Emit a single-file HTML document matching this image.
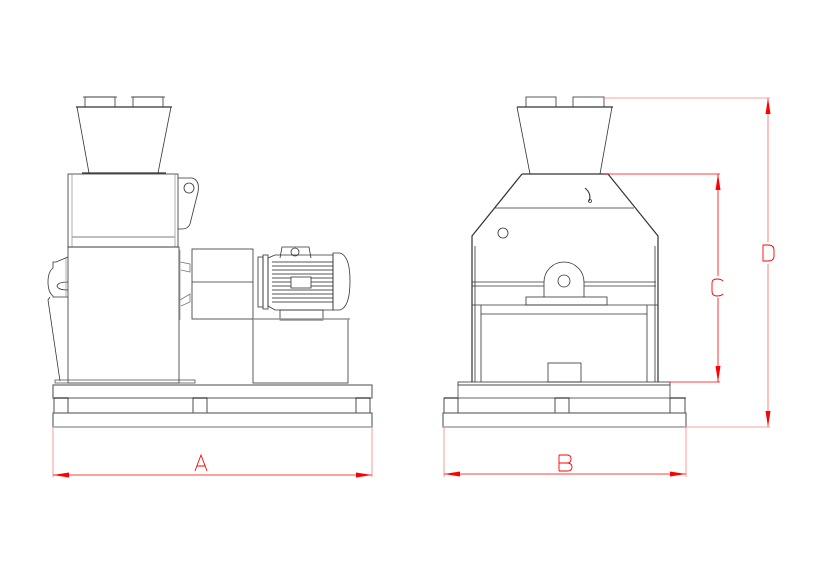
<!DOCTYPE html>
<html><head><meta charset="utf-8"><style>
html,body{margin:0;padding:0;background:#fff;}
svg{display:block}
text{font-family:"Liberation Sans",sans-serif;}
</style></head><body>
<svg width="830" height="583" viewBox="0 0 830 583" xmlns="http://www.w3.org/2000/svg">
<rect width="830" height="583" fill="#fff"/>
<g fill="none" stroke="#333" stroke-width="0.8">
<!-- LEFT MACHINE -->
<!-- inlet tubes -->
<rect x="85" y="97" width="30" height="10"/>
<rect x="133" y="97" width="30" height="10"/>
<line x1="83" y1="97" x2="117" y2="97"/><line x1="131" y1="97" x2="165" y2="97"/>
<line x1="76" y1="107" x2="172" y2="107" stroke-width="1.2"/>
<!-- hopper -->
<line x1="77" y1="107" x2="89" y2="173"/>
<line x1="171" y1="107" x2="158" y2="173"/>
<line x1="82" y1="173" x2="166" y2="173" stroke-width="1.2"/>
<!-- upper housing -->
<rect x="68" y="174" width="110" height="73"/>
<line x1="72" y1="174" x2="72" y2="247" stroke="#999"/>
<line x1="175" y1="174" x2="175" y2="247" stroke="#999"/>
<line x1="72" y1="237" x2="175" y2="237" stroke="#999" stroke-width="1.2"/>
<!-- bracket -->
<path d="M178 178 L192 178 Q200 180 198 192 L190 224 Q188 229 182 229 L178 229"/>
<circle cx="189" cy="188" r="5"/>
<!-- lower body -->
<rect x="68" y="247" width="111" height="136"/>
<!-- left bearing -->
<path d="M68 257 L56 262 L53 262 L53 268 Q48 272 48 282 Q48 292 53 296 L53 297 L68 297"/>
<path d="M68 282 Q58 282 57 286 Q58 290 68 290" />
<line x1="66" y1="257" x2="66" y2="297" stroke="#999"/>
<path d="M50 297 L48 300 L60 381" />
<!-- right side ribs -->
<path d="M180 262 L190 264 L190 272 L181 270" stroke="#777"/>
<path d="M180 300 L190 294 L190 302 L181 306" stroke="#777"/>
<line x1="180" y1="250" x2="180" y2="320" stroke="#999"/>
<!-- coupling guard -->
<rect x="192" y="249" width="61" height="70"/>
<line x1="192" y1="282" x2="253" y2="282"/>
<!-- motor -->
<rect x="258" y="257" width="5" height="50"/>
<rect x="263" y="255" width="5" height="54"/>
<path d="M268 258 L275 255 L333 255 L333 310 L275 310 L268 306 Z"/>
<g stroke="#555" stroke-width="0.9">
<line x1="272" y1="262" x2="333" y2="262"/>
<line x1="272" y1="266" x2="333" y2="266"/>
<line x1="272" y1="270" x2="333" y2="270"/>
<line x1="272" y1="274" x2="333" y2="274"/>
<line x1="272" y1="278" x2="333" y2="278"/>
<line x1="272" y1="282" x2="333" y2="282"/>
<line x1="272" y1="286" x2="333" y2="286"/>
<line x1="272" y1="290" x2="333" y2="290"/>
<line x1="272" y1="294" x2="333" y2="294"/>
<line x1="272" y1="298" x2="333" y2="298"/>
<line x1="272" y1="302" x2="333" y2="302"/>
</g>
<rect x="291" y="277" width="20" height="11" fill="#fff"/>
<path d="M280 258 L282 247 L309 247 L311 258"/>
<circle cx="295" cy="252" r="4"/>
<path d="M333 253 L340 253 Q350 256 350 281 Q350 307 340 310 L333 310 Z"/>
<rect x="280" y="310" width="43" height="10"/>
<!-- motor stand -->
<rect x="253" y="319" width="95" height="64"/>
<line x1="253" y1="319" x2="350" y2="319" stroke="#999" stroke-width="1.4"/>
<!-- base -->
<rect x="55" y="380" width="140" height="3" stroke="#555"/>
<rect x="53" y="385" width="319" height="13" stroke="#666" stroke-width="1.2"/>
<line x1="53" y1="398" x2="372" y2="398" stroke="#999" stroke-width="1.6"/>
<rect x="54" y="398" width="14" height="15" stroke="#222"/>
<rect x="193" y="398" width="14" height="15" stroke="#222"/>
<rect x="356" y="398" width="14" height="15" stroke="#222"/>
<rect x="53" y="413" width="319" height="14" stroke="#666" stroke-width="1.2"/>
<line x1="53" y1="427" x2="372" y2="427" stroke="#aaa" stroke-width="1.6"/>

<!-- RIGHT MACHINE -->
<rect x="526" y="97" width="30" height="10"/>
<rect x="573" y="97" width="31" height="10"/>
<line x1="517" y1="107" x2="613" y2="107" stroke-width="1.2"/>
<line x1="517" y1="107" x2="530" y2="174"/>
<line x1="612" y1="107" x2="600" y2="174"/>
<path d="M522 174 L608 174 L658 236 L658 382 M522 174 L472 236 L472 382" stroke-width="1.2"/>
<line x1="475" y1="246" x2="475" y2="382"/>
<line x1="655" y1="246" x2="655" y2="382"/>
<line x1="495" y1="208" x2="634" y2="208"/>
<circle cx="503" cy="233" r="5"/>
<path d="M585 188 Q592 194 589 201" stroke-width="1.1"/>
<circle cx="590" cy="201" r="1.5"/>
<line x1="472" y1="282" x2="544" y2="282"/><line x1="584" y1="282" x2="656" y2="282"/>
<line x1="472" y1="286" x2="544" y2="286"/><line x1="584" y1="286" x2="656" y2="286"/>
<path d="M544 297 L544 282 A20 20 0 0 1 584 282 L584 297"/>
<circle cx="564" cy="281" r="6"/>
<rect x="526" y="297" width="81" height="8"/>
<line x1="472" y1="305" x2="658" y2="305"/>
<line x1="481" y1="314" x2="647" y2="314"/>
<line x1="481" y1="305" x2="481" y2="382"/>
<line x1="647" y1="305" x2="647" y2="382"/>
<rect x="548" y="363" width="33" height="19"/>
<!-- base -->
<rect x="458" y="382" width="212" height="3"/>
<rect x="458" y="385" width="212" height="13" stroke="#444"/>
<line x1="444" y1="398" x2="686" y2="398" stroke="#999" stroke-width="1.4"/>
<rect x="444" y="398" width="14" height="15" stroke="#222"/>
<rect x="555" y="398" width="14" height="15" stroke="#222"/>
<rect x="670" y="398" width="15" height="15" stroke="#222"/>
<rect x="443" y="413" width="243" height="14" stroke="#666" stroke-width="1.2"/>
<line x1="443" y1="427" x2="686" y2="427" stroke="#aaa" stroke-width="1.6"/>
</g>

<!-- DIMENSIONS -->
<g stroke="#ff4040" stroke-width="0.8" fill="none">
<line x1="53" y1="427" x2="53" y2="477" stroke="#ff8080"/>
<line x1="372" y1="427" x2="372" y2="477" stroke="#ff8080"/>
<line x1="53" y1="475" x2="372" y2="475" stroke="#f00"/>
<line x1="444" y1="427" x2="444" y2="477" stroke="#ff8080"/>
<line x1="686" y1="427" x2="686" y2="477" stroke="#ff8080"/>
<line x1="444" y1="474" x2="686" y2="474" stroke="#f00"/>
<line x1="604" y1="98" x2="770" y2="98" stroke="#ff8080"/>
<line x1="686" y1="427" x2="770" y2="427" stroke="#ff8080"/>
<line x1="768" y1="98" x2="768" y2="242" stroke="#ff6060"/>
<line x1="768" y1="264" x2="768" y2="427" stroke="#ff6060"/>
<line x1="604" y1="174" x2="720" y2="174" stroke="#f00"/>
<line x1="670" y1="382" x2="720" y2="382" stroke="#f00"/>
<line x1="718" y1="174" x2="718" y2="276" stroke="#f00"/>
<line x1="718" y1="298" x2="718" y2="382" stroke="#f00"/>
</g>
<g fill="#f00">
<polygon points="53,475 69,472.5 69,477.5"/>
<polygon points="372,475 356,472.5 356,477.5"/>
<polygon points="444,474 460,471.5 460,476.5"/>
<polygon points="686,474 670,471.5 670,476.5"/>
<polygon points="718,174 715.5,190 720.5,190"/>
<polygon points="718,382 715.5,366 720.5,366"/>
<polygon points="768,98 765.5,114 770.5,114"/>
<polygon points="768,427 765.5,411 770.5,411"/>
</g>
<g fill="none" stroke="#f00" stroke-width="0.9">
<!-- A -->
<path d="M195 471 L201 455 L207 471 M197 466 L205 466"/>
<!-- B -->
<path d="M559 455 L559 471 M559 455 L567 455 Q571 455 571 459 Q571 463 567 463 L559 463 M567 463 Q572 463 572 467 Q572 471 567 471 L559 471"/>
<!-- C -->
<path d="M723 281 Q721 279 717 279 Q712 279 712 283 L712 291 Q712 296 717 296 Q721 296 723 294"/>
<!-- D -->
<path d="M763 245 L763 261 L768 261 Q774 261 774 256 L774 250 Q774 245 768 245 Z"/>
</g>
</svg>
</body></html>
